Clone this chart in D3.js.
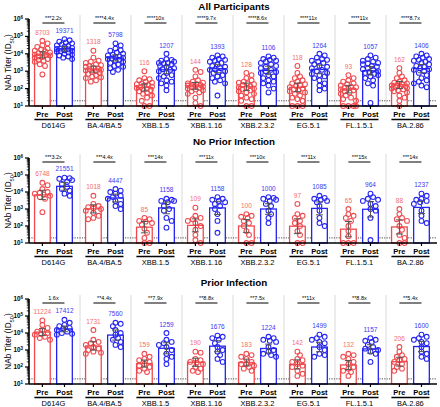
<!DOCTYPE html>
<html><head><meta charset="utf-8">
<script src="https://cdn.jsdelivr.net/npm/d3@7"></script>
<style>body{margin:0;background:#fff}svg{display:block;font-family:Arial,"Liberation Sans",Helvetica,sans-serif}</style>
</head><body><svg id="c" width="440" height="407"></svg>
<script>
// ---------------- DATA ----------------
const variants = ["D614G","BA.4/BA.5","XBB.1.5","XBB.1.16","XBB.2.3.2","EG.5.1","FL.1.5.1","BA.2.86"];
const timepoints = ["Pre","Post"];
const panelTitles = ["All Participants","No Prior Infection","Prior Infection"];
const yTickExps = [1,2,3,4,5,6];
const lod = 20;

// All participants
const allPreGMT  = [8703,1318,116,144,128,118,93,162];
const allPostGMT = [19371,5798,1207,1393,1106,1264,1057,1406];
const allFold = ["***2.2x","****4.4x","****10x","****9.7x","****8.6x","****11x","****11x","****8.7x"];
const allPre = [
 [56000,40000,30000,25000,20000,18000,15000,14000,12000,11000,10000,9000,8500,8000,7000,6500,6000,5000,4500,4000,3500,2500,2000,650],
 [15000,6000,4000,3500,3000,2500,2200,2000,1800,1500,1400,1300,1200,1100,1000,900,800,700,600,500,450,400,300,250],
 [1000,400,350,300,250,220,200,180,160,150,130,120,110,100,90,80,70,60,50,40,30,20,10,10],
 [1200,900,500,300,250,220,200,180,170,160,150,140,130,120,110,100,90,80,70,60,50,30,15,10],
 [800,600,400,300,250,220,200,180,160,140,120,110,100,90,80,70,60,50,40,30,25,20,10,10],
 [2000,800,500,400,300,250,200,180,160,140,120,100,90,80,70,60,50,40,30,25,20,10,10,10],
 [600,400,300,250,200,180,150,130,120,110,100,90,80,70,60,50,40,30,25,20,10,10,10,10],
 [1500,800,500,400,300,250,220,200,180,160,150,140,130,120,110,100,90,80,70,60,40,30,20,10]
];
const allPost = [
 [70000,60000,50000,45000,40000,35000,30000,28000,25000,22000,20000,19000,18000,16000,15000,14000,13000,12000,10000,9000,8000,7000,6000,5000],
 [40000,30000,20000,16000,15000,12000,10000,9000,8000,7000,6500,6000,5500,5000,4500,4000,3500,3000,2500,2000,1800,1500,1200,900],
 [10000,5000,4500,4000,3500,3000,3000,2800,2500,2000,1800,1500,1300,1200,1000,800,600,500,400,300,250,200,150,80],
 [8000,7000,6000,5000,4500,4000,3500,3000,2500,2000,1800,1500,1300,1200,1000,900,800,600,500,400,300,250,200,40],
 [7000,6000,5000,4500,4000,3500,3000,2500,2000,1800,1500,1200,1000,900,800,600,500,400,300,250,200,150,100,60],
 [10000,8000,6000,5000,4500,4000,3500,3000,2500,2000,1800,1500,1200,1000,800,700,600,500,400,300,200,150,100,80],
 [8000,6000,5000,4000,3500,3000,2800,2500,2000,1800,1500,1300,1200,1000,900,800,700,600,500,400,300,200,150,15],
 [10000,8000,7000,6000,5000,4500,4000,3500,3000,2500,2000,1800,1500,1300,1200,1000,800,600,400,300,250,200,150,120]
];

// No prior infection
const naivePreGMT  = [6748,1018,85,109,100,97,65,88];
const naivePostGMT = [21551,4447,1158,1158,1000,1085,964,1237];
const naiveFold = ["***3.2x","***4.4x","***14x","***11x","***10x","***11x","***15x","***14x"];
const naivePre = [
 [35000,25000,15000,10000,9000,8000,7000,6000,5000,4000,650],
 [6000,2000,1500,1300,1100,1000,800,600,400,300,250],
 [300,250,200,180,150,120,70,40,20,10,10],
 [1200,400,300,250,200,150,100,60,30,15,10],
 [500,400,350,300,200,150,100,50,30,10,10],
 [2000,500,400,300,200,150,100,50,30,10,10],
 [1000,500,400,300,200,100,50,25,10,10,10],
 [1000,500,300,250,200,100,60,30,20,10,10]
];
const naivePost = [
 [70000,65000,60000,50000,40000,30000,20000,15000,12000,8000,6000],
 [15000,12000,10000,8000,6000,5000,4000,3000,2000,1500,1000],
 [4000,3500,3000,3000,2500,1500,1000,800,300,200,80],
 [5000,4000,3500,3000,2500,2000,1500,1000,500,200,40],
 [5000,4500,4000,3500,3000,2000,1500,800,500,300,150],
 [6000,4500,4000,3500,3000,2500,1500,800,300,150,100],
 [8000,5000,4000,3500,3000,2000,1500,1000,800,300,15],
 [8000,6000,4000,3500,3000,2500,2000,800,400,200,150]
];

// Prior infection
const priorPreGMT  = [11224,1731,159,190,183,142,132,206];
const priorPostGMT = [17412,7560,1259,1676,1224,1499,1157,1600];
const priorFold = ["1.6x","**4.4x","**7.9x","**8.8x","**7.5x","**11x","**8.8x","**5.4x"];
const priorPre = [
 [55000,30000,20000,15000,12000,10000,9000,8000,6000,5000,4000],
 [15000,4000,3000,2500,2000,1500,1200,1000,800,700,600],
 [600,400,300,250,200,150,120,100,80,60,50],
 [800,700,300,250,200,180,150,100,80,60,50],
 [600,500,400,300,200,150,150,120,100,80,60],
 [800,500,300,250,200,150,120,100,60,40,30],
 [600,500,400,300,200,150,100,80,60,50,30],
 [1500,800,500,400,300,250,200,150,100,80,60]
];
const priorPost = [
 [60000,40000,30000,25000,20000,18000,15000,12000,10000,9000,8000],
 [40000,35000,25000,15000,10000,8000,5000,4000,3000,2000,1500],
 [10000,4000,3000,2500,2000,1500,1000,600,400,300,150],
 [7000,6000,5000,4000,2500,1500,1000,800,500,300,200],
 [6000,5000,4000,3500,3000,1500,1000,800,600,500,400],
 [8000,6000,5000,4000,3000,2500,1500,1000,600,500,400],
 [5000,4000,3500,3000,2000,1500,1200,1000,800,600,200],
 [8000,6000,5000,4000,3000,2500,1500,800,600,400,300]
];

// ---------------- DRAW ----------------
const RED = "#f04a4e", BLUE = "#2424f2", RED_T = "#f36d70", BLUE_T = "#3a3af2";
const svg = d3.select("#c");
const panels = [
  {title: panelTitles[0], preGMT: allPreGMT, postGMT: allPostGMT, fold: allFold, pre: allPre, post: allPost, top: 19, bottom: 106, titleY: 7},
  {title: panelTitles[1], preGMT: naivePreGMT, postGMT: naivePostGMT, fold: naiveFold, pre: naivePre, post: naivePost, top: 158, bottom: 243, titleY: 142},
  {title: panelTitles[2], preGMT: priorPreGMT, postGMT: priorPostGMT, fold: priorFold, pre: priorPre, post: priorPost, top: 299, bottom: 384, titleY: 283}
];
const xLeft = 29, xRight = 437;
const x0 = d3.scaleBand().domain(variants).range([xLeft, xRight]);
const xi = d3.scaleBand().domain(timepoints).range([0, x0.bandwidth()]).paddingInner(0.29).paddingOuter(0.3).align(0.42);
const bw = xi.bandwidth();
const R = 2.4;

function swarm(vals, cx, y) {
  const pts = vals.map(v => ({v, py: y(Math.max(v, 10))})).sort((a, b) => a.py - b.py);
  const placed = [];
  const offs = [0, 2.6, -2.6, 5.2, -5.2, 7.6, -7.6, 1.3, -1.3, 3.9, -3.9, 6.4, -6.4];
  const minD = 2 * R * 0.9;
  pts.forEach(p => {
    let best = 0, bestScore = Infinity;
    for (const o of offs) {
      let score = 0;
      for (const q of placed) {
        const d = Math.hypot(q.px - (cx + o), q.py - p.py);
        if (d < minD) score += (minD - d);
      }
      if (score === 0) { best = o; bestScore = 0; break; }
      if (score < bestScore) { bestScore = score; best = o; }
    }
    p.px = cx + best;
    placed.push(p);
  });
  return pts;
}

function sup(sel, base, exp) {
  sel.text(base);
  sel.append("tspan").attr("baseline-shift", "super").attr("font-size", "0.72em").text(exp);
}

panels.forEach(P => {
  const g = svg.append("g");
  const y = d3.scaleLog().domain([10, 1e6]).range([P.bottom, P.top]);

  g.append("text").attr("x", 234).attr("y", P.titleY).attr("text-anchor", "middle")
    .attr("dominant-baseline", "middle").attr("font-weight", "bold").attr("font-size", 9.8).text(P.title);

  variants.slice(1).forEach(v => {
    g.append("line").attr("x1", x0(v)).attr("x2", x0(v)).attr("y1", P.top - 4).attr("y2", P.bottom)
      .attr("stroke", "#d0d0d0").attr("stroke-width", 0.8);
  });

  g.append("line").attr("x1", xLeft).attr("x2", xRight).attr("y1", y(lod)).attr("y2", y(lod))
    .attr("stroke", "#222").attr("stroke-width", 0.8).attr("stroke-dasharray", "1.2,1.2");

  variants.forEach((v, i) => {
    const gx = x0(v);
    const series = [
      {t: "Pre", gmt: P.preGMT[i], vals: P.pre[i], col: RED, tcol: RED_T},
      {t: "Post", gmt: P.postGMT[i], vals: P.post[i], col: BLUE, tcol: BLUE_T}
    ];
    series.forEach(s => {
      const bx = gx + xi(s.t), cx = bx + bw / 2;
      s.cx = cx;
      g.append("rect").attr("x", bx).attr("y", y(s.gmt)).attr("width", bw).attr("height", P.bottom - y(s.gmt))
        .attr("fill", "#fff").attr("stroke", s.col).attr("stroke-width", 1.3);
      const pts = swarm(s.vals, cx, y);
      g.selectAll(null).data(pts).enter().append("circle")
        .attr("cx", d => d.px).attr("cy", d => d.py).attr("r", R)
        .attr("fill", "none").attr("stroke", s.col).attr("stroke-width", 1.05);
      const logs = s.vals.map(d => Math.log10(Math.max(d, 10)));
      const sd = d3.deviation(logs), n = logs.length;
      const half = 2.0 * sd / Math.sqrt(n);
      const m = Math.log10(s.gmt);
      const yU = y(Math.pow(10, m + half)), yL = y(Math.pow(10, m - half));
      g.append("line").attr("x1", cx).attr("x2", cx).attr("y1", yU).attr("y2", yL).attr("stroke", "#555").attr("stroke-width", 1);
      [yU, yL].forEach(yy => g.append("line").attr("x1", cx - 3.5).attr("x2", cx + 3.5).attr("y1", yy).attr("y2", yy)
        .attr("stroke", "#555").attr("stroke-width", 1));
      const topPt = y(d3.max(s.vals));
      const ly = Math.min(topPt, yU) - 8;
      g.append("text").attr("x", cx).attr("y", ly).attr("text-anchor", "middle").attr("dominant-baseline", "middle")
        .attr("font-size", 6.5).attr("fill", s.tcol).text(s.gmt);
      g.append("line").attr("x1", cx).attr("x2", cx).attr("y1", P.bottom).attr("y2", P.bottom + 3)
        .attr("stroke", "#000").attr("stroke-width", 1.2);
      g.append("text").attr("x", cx).attr("y", P.bottom + 9).attr("text-anchor", "middle").attr("dominant-baseline", "middle")
        .attr("font-size", 7.5).attr("font-weight", "bold").text(s.t);
    });
    g.append("line").attr("x1", series[0].cx).attr("x2", series[1].cx).attr("y1", P.top + 4).attr("y2", P.top + 4)
      .attr("stroke", "#000").attr("stroke-width", 1);
    g.append("text").attr("x", (series[0].cx + series[1].cx) / 2).attr("y", P.top).attr("text-anchor", "middle")
      .attr("dominant-baseline", "middle").attr("font-size", 5.5).text(P.fold[i]);
    g.append("line").attr("x1", series[0].cx - 8).attr("x2", series[1].cx + 8).attr("y1", P.bottom + 13.5).attr("y2", P.bottom + 13.5)
      .attr("stroke", "#000").attr("stroke-width", 1.3);
    g.append("text").attr("x", (series[0].cx + series[1].cx) / 2).attr("y", P.bottom + 20.5).attr("text-anchor", "middle")
      .attr("dominant-baseline", "middle").attr("font-size", 7.5).text(v);
  });

  g.append("line").attr("x1", xLeft).attr("x2", xRight).attr("y1", P.bottom).attr("y2", P.bottom)
    .attr("stroke", "#000").attr("stroke-width", 1.6);

  g.append("line").attr("x1", xLeft).attr("x2", xLeft).attr("y1", P.top).attr("y2", P.bottom)
    .attr("stroke", "#000").attr("stroke-width", 1.6);
  yTickExps.forEach(e => {
    const v = Math.pow(10, e);
    g.append("line").attr("x1", xLeft - 4).attr("x2", xLeft).attr("y1", y(v)).attr("y2", y(v)).attr("stroke", "#000").attr("stroke-width", 1.2);
    const t = g.append("text").attr("x", xLeft - 6).attr("y", y(v) + 2).attr("text-anchor", "end")
      .attr("font-size", 6.3).attr("font-weight", "bold");
    sup(t, "10", e);
    if (e < 6) for (let k = 2; k <= 9; k++) {
      const mv = k * v;
      g.append("line").attr("x1", xLeft - 2.2).attr("x2", xLeft).attr("y1", y(mv)).attr("y2", y(mv)).attr("stroke", "#000").attr("stroke-width", 0.8);
    }
  });
  const yc = (P.top + P.bottom) / 2;
  const yt = g.append("text").attr("transform", `translate(9,${yc}) rotate(-90)`).attr("text-anchor", "middle")
    .attr("dominant-baseline", "middle").attr("font-size", 8.2).text("NAb Titer (ID");
  yt.append("tspan").attr("baseline-shift", "sub").attr("font-size", "0.7em").text("50");
  yt.append("tspan").text(")");
});
</script></body></html>
